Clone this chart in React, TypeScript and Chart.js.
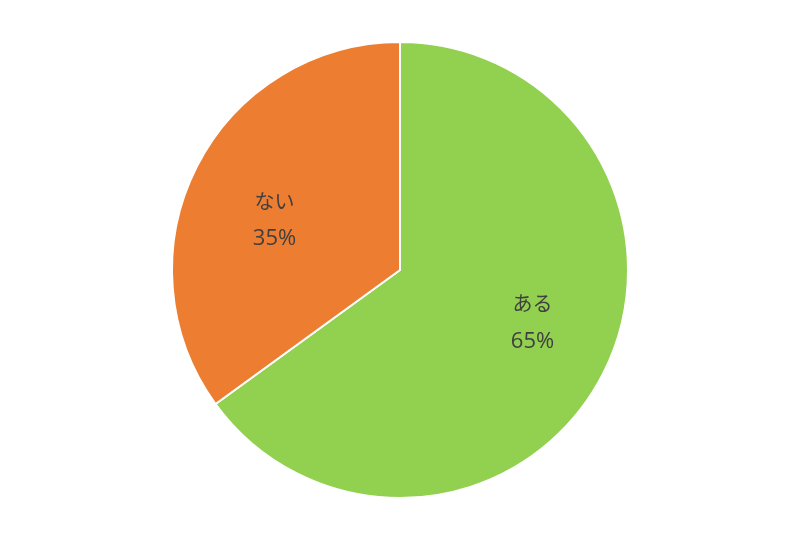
import React, { useEffect, useRef } from "react";
import { Chart, registerables } from "chart.js";

Chart.register(...registerables);

const categories = ["ある", "ない"];
const values = [65, 35];
const valueLabels = ["65%", "35%"];
const colors = ["#92D050", "#ED7D31"];

const labelPlugin = {
  id: "sliceLabels",
  afterDatasetsDraw(chart: any) {
    const ctx = chart.ctx;
    const meta = chart.getDatasetMeta(0);
    ctx.save();
    ctx.fillStyle = "#404040";
    ctx.textAlign = "center";
    ctx.textBaseline = "middle";
    meta.data.forEach((arc: any, i: number) => {
      const p = arc.getProps(["startAngle", "endAngle", "outerRadius", "x", "y"], true);
      const mid = (p.startAngle + p.endAngle) / 2;
      const r = p.outerRadius * 0.635;
      const cx = p.x + Math.cos(mid) * r + 3.5;
      const cy = p.y + Math.sin(mid) * r * 0.78 + 2.5;
      ctx.font = '20px "Open Sans", "Noto Sans CJK JP", sans-serif';
      ctx.fillText(categories[i], cx, cy - 18);
      ctx.font = '22px "Open Sans", "Noto Sans CJK JP", sans-serif';
      ctx.fillText(valueLabels[i], cx, cy + 18);
    });
    ctx.restore();
  },
};

export default function App() {
  const ref = useRef<HTMLCanvasElement>(null);
  useEffect(() => {
    document.body.style.margin = "0";
    const chart = new Chart(ref.current!, {
      type: "pie",
      data: {
        labels: categories,
        datasets: [
          {
            data: values,
            backgroundColor: colors,
            borderColor: "#ffffff",
            borderWidth: 2,
          },
        ],
      },
      options: {
        responsive: false,
        animation: false,
        layout: { padding: { top: 41, bottom: 34 } },
        plugins: {
          legend: { display: false },
          tooltip: { enabled: false },
        },
      },
      plugins: [labelPlugin],
    });
    return () => chart.destroy();
  }, []);
  return (
    <div style={{ width: 800, height: 533, background: "#fff" }}>
      <canvas ref={ref} width={800} height={533} />
    </div>
  );
}
